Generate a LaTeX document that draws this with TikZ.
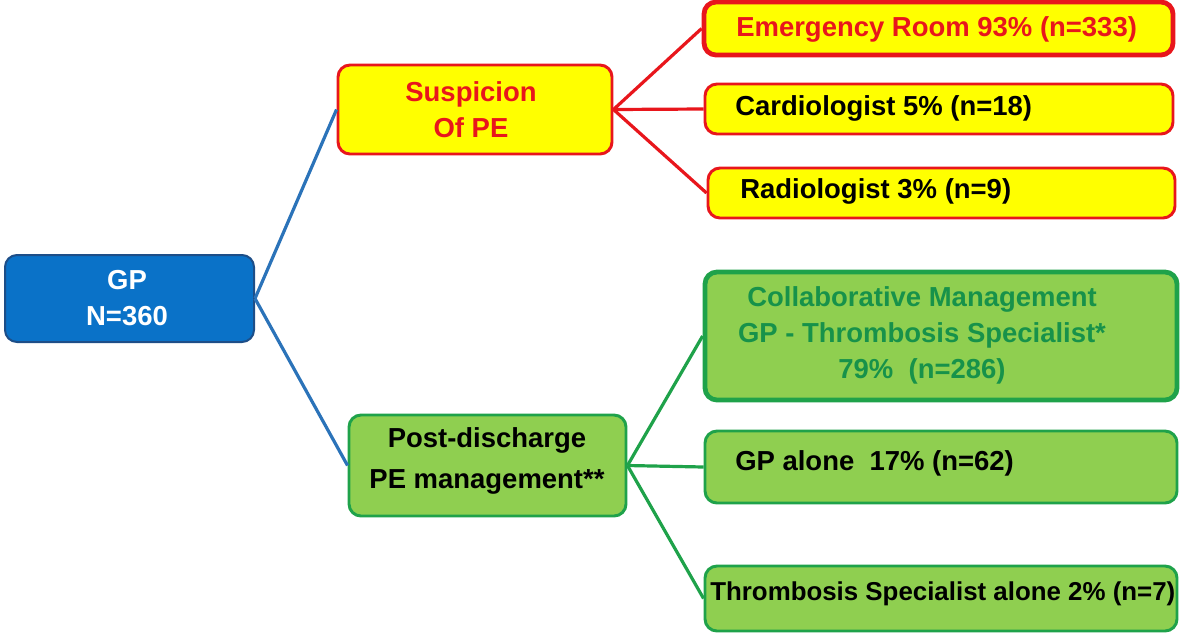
\documentclass[tikz,border=0pt]{standalone}
\usepackage{fontspec}
\setmainfont{Liberation Sans}
\definecolor{boxblue}{HTML}{0A72C8}
\definecolor{darkblue}{HTML}{1D4E88}
\definecolor{lineblue}{HTML}{2B73B9}
\definecolor{pered}{HTML}{E8161C}
\definecolor{peyellow}{HTML}{FFFF00}
\definecolor{pegreen}{HTML}{8FCF50}
\definecolor{edgegreen}{HTML}{1FA24A}
\definecolor{textgreen}{HTML}{17924A}
\tikzset{
  bx/.style={rounded corners=9pt, inner sep=0pt},
  redbox/.style={bx, fill=peyellow, draw=pered, line width=2.2pt},
  greenbox/.style={bx, fill=pegreen, draw=edgegreen, line width=2.2pt},
  txt/.style={font=\fontsize{20.6pt}{27pt}\selectfont\bfseries, inner sep=0pt},
  redline/.style={draw=pered, line width=2.4pt},
  greenline/.style={draw=edgegreen, line width=2.4pt},
  blueline/.style={draw=lineblue, line width=2.4pt},
}
\begin{document}
\begin{tikzpicture}[x=0.75pt,y=-0.75pt]
\useasboundingbox (0,0) rectangle (1180,633);
% boxes
\node[bx, fill=boxblue, draw=darkblue, line width=1.5pt, minimum width={249*0.75pt}, minimum height={87*0.75pt}] (gp) at (129.5,298.5) {};
\node[redbox, minimum width={274*0.75pt}, minimum height={89*0.75pt}] (susp) at (475,109.5) {};
\node[redbox, line width=3.6pt, minimum width={469*0.75pt}, minimum height={53*0.75pt}] (er) at (938.5,28.5) {};
\node[redbox, minimum width={468*0.75pt}, minimum height={50*0.75pt}] (card) at (939,109) {};
\node[redbox, minimum width={467*0.75pt}, minimum height={50*0.75pt}] (radio) at (941.5,193) {};
\node[greenbox, minimum width={277*0.75pt}, minimum height={101*0.75pt}] (post) at (487.5,465.5) {};
\node[greenbox, line width=3.6pt, minimum width={472*0.75pt}, minimum height={128*0.75pt}] (collab) at (941,336) {};
\node[greenbox, minimum width={472*0.75pt}, minimum height={72*0.75pt}] (gpal) at (941,467) {};
\node[greenbox, minimum width={472*0.75pt}, minimum height={65*0.75pt}] (thr) at (941,598.5) {};
% texts
\node[txt, text=white, align=center] (gpt) at (127,298) {GP\\N=360};
\node[txt, text=pered, align=center] (suspt) at (471,110) {Suspicion\\Of PE};
\node[txt, text=pered, anchor=west] (ert) at (736,29) {Emergency Room 93\% (n=333)};
\node[txt, anchor=west] (cardt) at (735,108) {Cardiologist 5\% (n=18)};
\node[txt, anchor=west] (radiot) at (740,191) {Radiologist 3\% (n=9)};
\node[txt, align=center, font=\fontsize{20.6pt}{31pt}\selectfont\bfseries] (postt) at (487,461) {Post-discharge\\PE management**};
\node[txt, text=textgreen, align=center] (collabt) at (922,335) {Collaborative Management\\GP - Thrombosis Specialist*\\79\%~~(n=286)};
\node[txt, anchor=west] (gpalt) at (735,463) {GP alone~~17\% (n=62)};
\node[txt, anchor=west, font=\fontsize{19.4pt}{24pt}\selectfont\bfseries] (thrt) at (710,594) {Thrombosis Specialist alone 2\% (n=7)};
% connectors
\draw[blueline] (gp.east) -- (susp.west);
\draw[blueline] (gp.east) -- (post.west);
\draw[redline] (susp.east) -- (er.west);
\draw[redline] (susp.east) -- (card.west);
\draw[redline] (susp.east) -- (radio.west);
\draw[greenline] (post.east) -- (collab.west);
\draw[greenline] (post.east) -- (gpal.west);
\draw[greenline] (post.east) -- (thr.west);
\end{tikzpicture}
\end{document}
